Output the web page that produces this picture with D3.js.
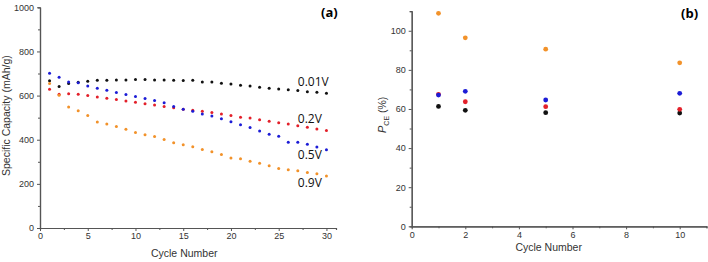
<!DOCTYPE html>
<html lang="en">
<head>
<meta charset="UTF-8">
<title>Specific capacity and P_CE vs cycle number</title>
<script src="https://d3js.org/d3.v7.min.js"></script>
<style>
  body { margin: 0; background: #fff; }
  svg { display: block; }
  .tick text { font-family: "Liberation Sans", Arial, sans-serif; font-size: 9px; fill: #333; }
  .axis-title { font-family: "Liberation Sans", Arial, sans-serif; font-size: 10.5px; fill: #333; }
  .series-label { font-family: "Open Sans", sans-serif; font-size: 12px; fill: #111; }
  .panel-label { font-family: "Open Sans", sans-serif; font-size: 13px; font-weight: bold; fill: #000; }
</style>
</head>
<body>
<script>
// panel (a): specific capacity (mAh/g) per cycle, cycles 1..30
const cyclesA = d3.range(1, 31);
const cap001 = [667, 641, 655, 660, 665, 670, 670, 671, 671, 673, 673, 671, 671, 670, 668,
                670, 661, 661, 656, 652, 647, 643, 638, 633, 630, 626, 623, 617, 615, 611];
const cap02  = [629, 606, 608, 606, 600, 594, 588, 582, 576, 570, 563, 557, 551, 545, 538,
                534, 529, 523, 517, 510, 502, 498, 490, 484, 477, 471, 463, 457, 449, 442];
const cap05  = [701, 683, 661, 658, 643, 633, 624, 614, 605, 596, 587, 578, 567, 551, 538,
                529, 517, 507, 495, 481, 468, 455, 439, 425, 416, 389, 389, 379, 367, 354];
const cap09  = [655, 602, 548, 531, 510, 480, 471, 460, 448, 433, 422, 415, 401, 386, 377,
                368, 356, 345, 333, 317, 314, 303, 293, 282, 270, 264, 259, 252, 246, 236];
const labelsA = ["0.01V", "0.2V", "0.5V", "0.9V"];

// panel (b): P_CE (%) at selected cycles
const cyclesB = [1, 2, 5, 10];
const pceBlack  = [61.3, 59.3, 58.1, 57.9];
const pceRed    = [67.5, 63.7, 61.2, 59.8];
const pceBlue   = [67.1, 69.0, 64.6, 68.0];
const pceOrange = [108.9, 96.4, 90.6, 83.6];

const colors = { black: "#111111", red: "#e3202a", blue: "#1c1cd6", orange: "#f2922a" };

const svg = d3.select("body").append("svg")
  .attr("width", 708)
  .attr("height", 262);

const axisColor = "#555";

function styleAxis(g) {
  g.select(".domain").attr("stroke", axisColor).attr("stroke-width", 1.2);
  g.selectAll(".tick line").attr("stroke", axisColor);
}

function drawAxes(x, y, xMajor, xMinor, yMajor, yMinor, x0, y0) {
  // minor ticks first, no labels
  svg.append("g")
    .attr("transform", `translate(0,${y0})`)
    .call(d3.axisBottom(x).tickValues(xMinor).tickSize(2).tickFormat(""))
    .call(styleAxis);
  svg.append("g")
    .attr("transform", `translate(${x0},0)`)
    .call(d3.axisLeft(y).tickValues(yMinor).tickSize(2).tickFormat(""))
    .call(styleAxis);
  // major ticks with labels
  svg.append("g")
    .attr("transform", `translate(0,${y0})`)
    .call(d3.axisBottom(x).tickValues(xMajor).tickSize(3).tickPadding(2)
      .tickSizeOuter(0).tickFormat(d3.format("d")))
    .call(styleAxis);
  svg.append("g")
    .attr("transform", `translate(${x0},0)`)
    .call(d3.axisLeft(y).tickValues(yMajor).tickSize(3).tickPadding(3)
      .tickSizeOuter(0).tickFormat(d3.format("d")))
    .call(styleAxis);
}

// ---------- panel (a) ----------
const xA = d3.scaleLinear().domain([0, 31]).range([40, 336]);
const yA = d3.scaleLinear().domain([0, 1000]).range([228, 7.3]);

drawAxes(xA, yA,
  [0, 5, 10, 15, 20, 25, 30], [2.5, 7.5, 12.5, 17.5, 22.5, 27.5],
  [0, 200, 400, 600, 800, 1000], [100, 300, 500, 700, 900],
  40, 228);

const seriesA = [
  { vals: cap001, color: colors.black },
  { vals: cap02,  color: colors.red },
  { vals: cap05,  color: colors.blue },
  { vals: cap09,  color: colors.orange }
];

seriesA.forEach(s => {
  svg.append("g").selectAll("circle")
    .data(cyclesA)
    .join("circle")
    .attr("cx", d => xA(d))
    .attr("cy", (d, i) => yA(s.vals[i]))
    .attr("r", 1.5)
    .attr("fill", s.color);
});

// series labels (baseline values)
const labelPos = [[27, 645], [27, 477], [27, 314], [27, 184]];
labelsA.forEach((t, i) => {
  svg.append("text")
    .attr("class", "series-label")
    .attr("x", xA(labelPos[i][0]))
    .attr("y", yA(labelPos[i][1]))
    .text(t);
});

svg.append("text")
  .attr("class", "axis-title")
  .attr("x", xA(15) + 1)
  .attr("y", 257)
  .attr("text-anchor", "middle")
  .text("Cycle Number");

svg.append("text")
  .attr("class", "axis-title")
  .attr("transform", `translate(10,${yA(500) - 2}) rotate(-90)`)
  .attr("text-anchor", "middle")
  .text("Specific Capacity (mAh/g)");

svg.append("text")
  .attr("class", "panel-label")
  .attr("x", 321)
  .attr("y", 17)
  .text("(a)");

// ---------- panel (b) ----------
const xB = d3.scaleLinear().domain([0, 11]).range([411.7, 706.5]);
const yB = d3.scaleLinear().domain([0, 110]).range([226.3, 11.2]);

drawAxes(xB, yB,
  [0, 2, 4, 6, 8, 10], [1, 3, 5, 7, 9, 11],
  [0, 20, 40, 60, 80, 100], [10, 30, 50, 70, 90, 110],
  411.7, 226.3);

const seriesB = [
  { vals: pceBlack,  color: colors.black },
  { vals: pceRed,    color: colors.red },
  { vals: pceBlue,   color: colors.blue },
  { vals: pceOrange, color: colors.orange }
];

seriesB.forEach(s => {
  svg.append("g").selectAll("circle")
    .data(cyclesB)
    .join("circle")
    .attr("cx", d => xB(d))
    .attr("cy", (d, i) => yB(s.vals[i]))
    .attr("r", 2.4)
    .attr("fill", s.color);
});

svg.append("text")
  .attr("class", "axis-title")
  .attr("x", xB(5) + 3)
  .attr("y", 251)
  .attr("text-anchor", "middle")
  .text("Cycle Number");

const pTitle = svg.append("text")
  .attr("class", "axis-title")
  .attr("transform", `translate(386,${yB(57)}) rotate(-90)`)
  .attr("text-anchor", "middle");
pTitle.append("tspan").attr("font-style", "italic").attr("font-size", "11px").text("P");
pTitle.append("tspan").attr("font-size", "7px").attr("dy", 2.5).text("CE");
pTitle.append("tspan").attr("dy", -2.5).text(" (%)");

svg.append("text")
  .attr("class", "panel-label")
  .attr("x", 681)
  .attr("y", 18)
  .text("(b)");
</script>
</body>
</html>
